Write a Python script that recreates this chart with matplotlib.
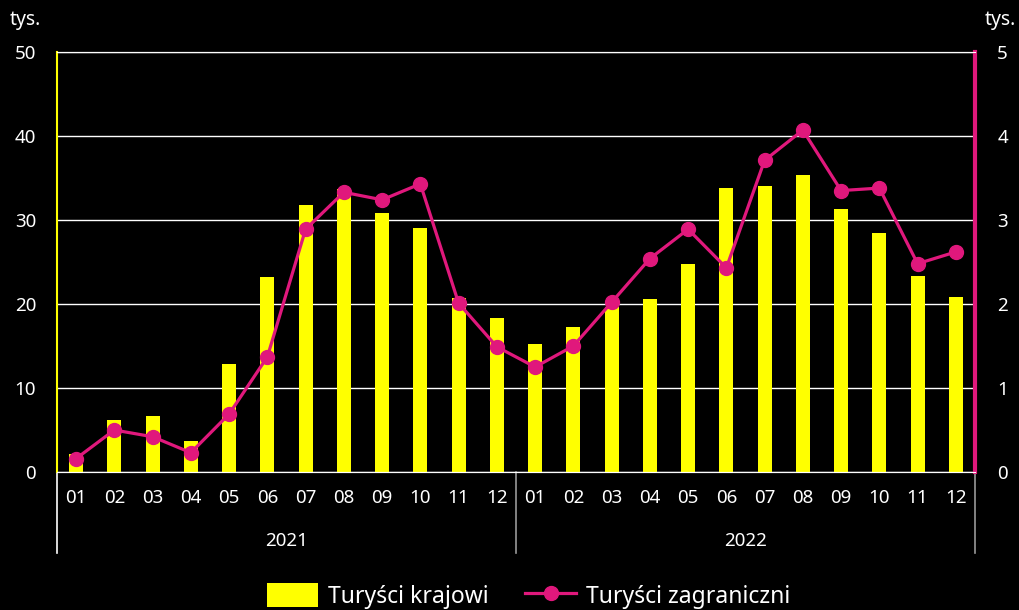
import matplotlib.pyplot as plt
import numpy as np

plt.rcParams['font.family'] = ['Noto Sans', 'DejaVu Sans']

months = ['01', '02', '03', '04', '05', '06', '07', '08', '09', '10', '11', '12'] * 2
years = ['2021', '2022']
krajowi = [2.1, 6.2, 6.7, 3.7, 12.9, 23.2, 31.8, 33.7, 30.8, 29.0, 20.7, 18.3,
           15.2, 17.3, 19.6, 20.6, 24.8, 33.8, 34.0, 35.4, 31.3, 28.5, 23.3, 20.8]
zagraniczni = [0.16, 0.50, 0.42, 0.23, 0.69, 1.37, 2.89, 3.33, 3.24, 3.43, 2.01, 1.49,
               1.25, 1.50, 2.02, 2.54, 2.89, 2.43, 3.71, 4.07, 3.35, 3.38, 2.48, 2.62]

yellow = '#ffff00'
pink = '#e0187c'
x = np.arange(len(months))

fig = plt.figure(figsize=(10.19, 6.10), dpi=100, facecolor='black')
ax = fig.add_axes([0.0559, 0.2262, 0.9009, 0.6886], facecolor='black')
ax2 = ax.twinx()

bars = ax.bar(x, krajowi, width=0.37, color=yellow, label='Turyści krajowi', zorder=2)
line, = ax2.plot(x, zagraniczni, color=pink, lw=2.3, marker='o', ms=10,
                 label='Turyści zagraniczni', zorder=3)

ax.set_xlim(-0.5, len(months) - 0.5)
ax.set_ylim(0, 50)
ax2.set_ylim(0, 5)
ax.set_yticks(range(0, 51, 10))
ax2.set_yticks(range(0, 6))
ax.set_xticks(x)
ax.set_xticklabels(months)

ax.set_axisbelow(True)
ax.yaxis.grid(True, color='white', lw=1)
ax.tick_params(axis='y', length=0, pad=15, colors='white', labelsize=13.5)
ax.tick_params(axis='x', length=0, pad=12, colors='white', labelsize=13.5)
ax2.tick_params(axis='y', length=0, pad=16, colors='white', labelsize=13.5)

for a in (ax, ax2):
    a.spines['top'].set_color('white')
    a.spines['bottom'].set_color('white')
ax.spines['left'].set_color(yellow)
ax.spines['left'].set_linewidth(1.5)
ax2.spines['left'].set_visible(False)
ax.spines['right'].set_visible(False)
ax2.spines['right'].set_color(pink)
ax2.spines['right'].set_linewidth(3)

# separators and year labels below the month ticks
tr = ax.get_xaxis_transform()
for b, c in zip([-0.5, 11.5, 23.5], ['white', '#999999', '#999999']):
    ax.plot([b, b], [0, -0.193], color=c, lw=1.2, transform=tr, clip_on=False)
for i, yr in enumerate(years):
    ax.text(5.5 + 12 * i, -0.165, yr, transform=tr, ha='center', va='center',
            color='white', fontsize=13.5)

fig.text(0.010, 0.968, 'tys.', color='white', fontsize=14, ha='left', va='center')
fig.text(0.997, 0.968, 'tys.', color='white', fontsize=14, ha='right', va='center')

fig.legend([bars, line], ['Turyści krajowi', 'Turyści zagraniczni'],
           loc='center', bbox_to_anchor=(0.519, 0.023), ncol=2, frameon=False,
           fontsize=16.5, labelcolor='white', handlelength=2.2, handleheight=1.2,
           columnspacing=1.6, handletextpad=0.45)

fig.savefig('out.png', dpi=100, facecolor='black')
